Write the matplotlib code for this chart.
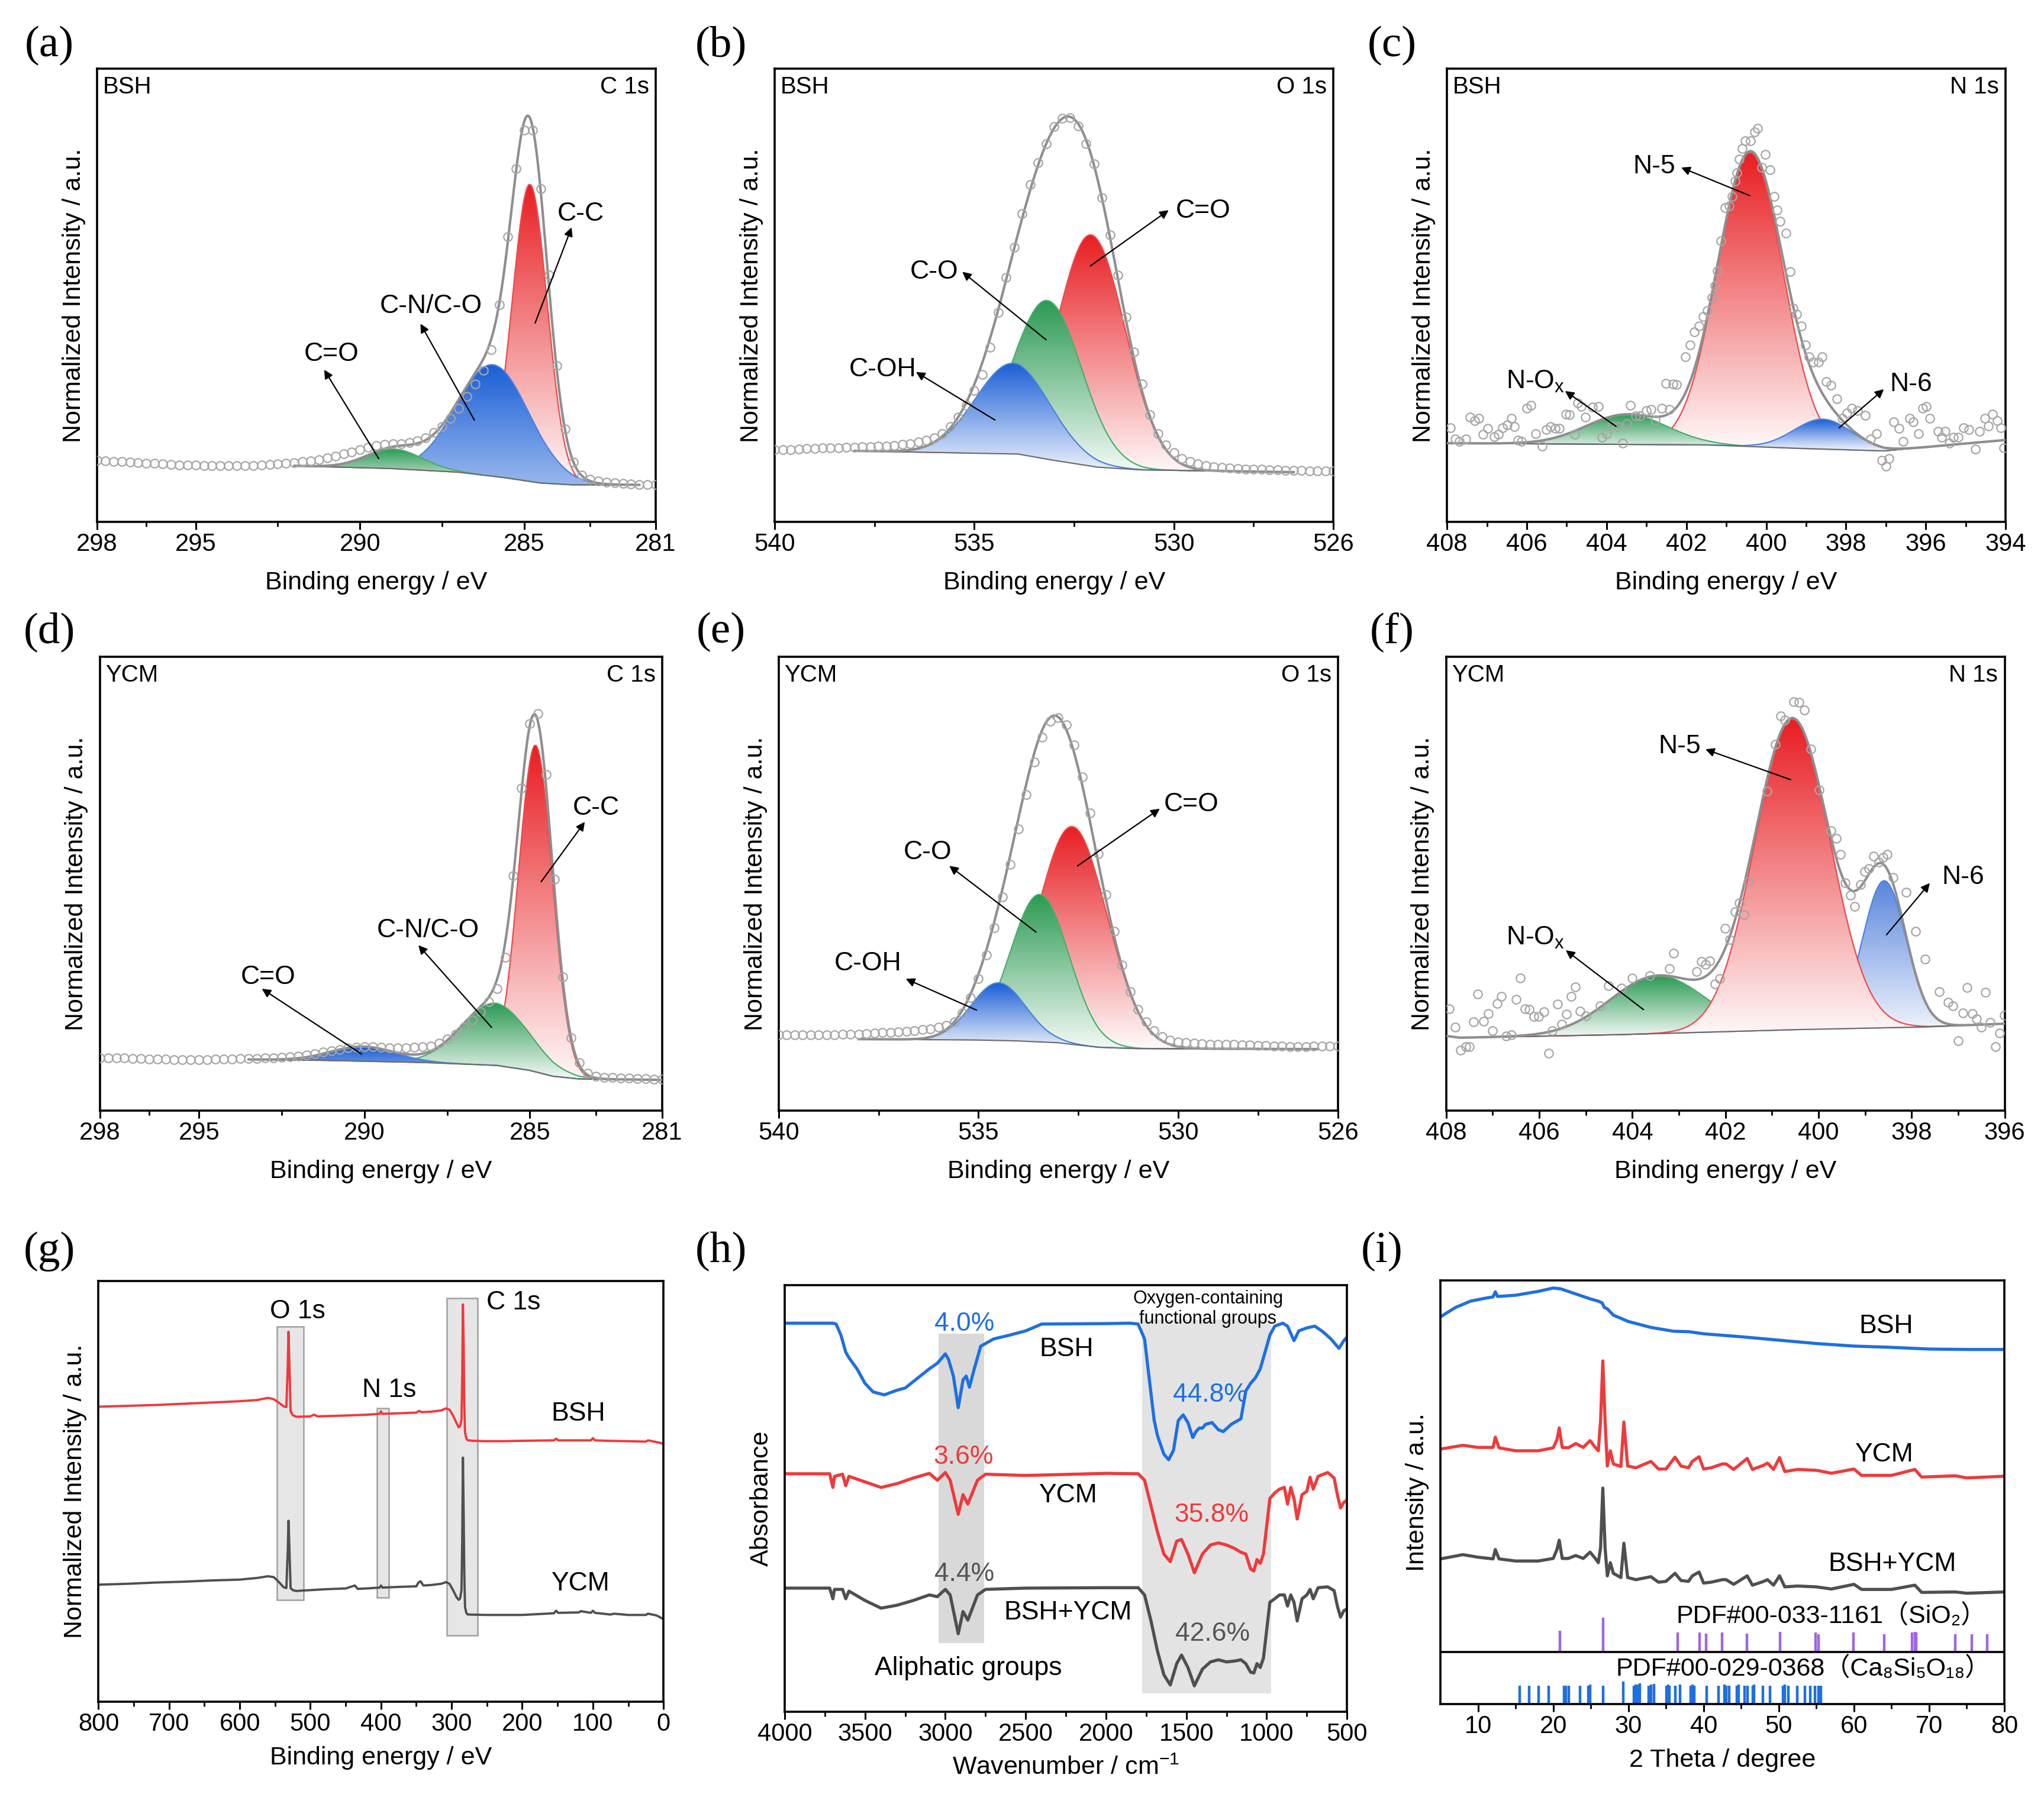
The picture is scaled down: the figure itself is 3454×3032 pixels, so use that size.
import numpy as np
import matplotlib
matplotlib.use("Agg")
import matplotlib.pyplot as plt
from matplotlib.colors import to_rgb
from matplotlib.patches import Rectangle

plt.rcParams['font.family'] = ['Liberation Sans', 'Noto Sans CJK SC', 'DejaVu Sans']
plt.rcParams['mathtext.fontset'] = 'custom'
plt.rcParams['mathtext.rm'] = 'Liberation Sans'
plt.rcParams['mathtext.it'] = 'Liberation Sans:italic'
plt.rcParams['mathtext.default'] = 'regular'

# ---------------- data (intensities as fraction of axis height) -------------
# (a) BSH C 1s, 298 -> 281 eV, 0.25 eV step
a_I = [0.136, 0.135, 0.134, 0.133, 0.132, 0.131, 0.130, 0.129, 0.128, 0.127,
       0.126, 0.126, 0.126, 0.125, 0.124, 0.124, 0.124, 0.124, 0.125, 0.125,
       0.126, 0.127, 0.128, 0.129, 0.131, 0.133, 0.135, 0.138, 0.141, 0.145,
       0.150, 0.155, 0.160, 0.165, 0.169, 0.172, 0.173, 0.173, 0.175, 0.179,
       0.186, 0.197, 0.211, 0.229, 0.251, 0.277, 0.305, 0.335, 0.380, 0.480,
       0.630, 0.780, 0.865, 0.865, 0.735, 0.545, 0.345, 0.205, 0.132, 0.104,
       0.094, 0.090, 0.088, 0.086, 0.085, 0.084, 0.083, 0.083, 0.082]
a_bgE = [292, 289, 287, 285.5, 284.5, 283.5, 281.5]
a_bgI = [0.124, 0.118, 0.110, 0.097, 0.086, 0.082, 0.082]
# peaks: centre, height, fwhm
a_center = [284.83, 285.95, 288.95]
a_height = [0.655, 0.246, 0.043]
a_fwhm = [1.25, 2.6, 2.0]

# (b) BSH O 1s, 540 -> 526 eV, 0.2 eV step
b_I = [0.159, 0.160, 0.160, 0.161, 0.162, 0.162, 0.163, 0.163, 0.164, 0.165,
       0.165, 0.166, 0.166, 0.167, 0.168, 0.169, 0.171, 0.173, 0.176, 0.180,
       0.186, 0.195, 0.210, 0.232, 0.258, 0.290, 0.325, 0.385, 0.462, 0.540,
       0.606, 0.680, 0.745, 0.792, 0.835, 0.872, 0.890, 0.892, 0.873, 0.835,
       0.790, 0.715, 0.633, 0.545, 0.452, 0.375, 0.305, 0.236, 0.195, 0.170,
       0.153, 0.140, 0.133, 0.128, 0.124, 0.122, 0.120, 0.119, 0.118, 0.117,
       0.117, 0.116, 0.115, 0.115, 0.114, 0.114, 0.114, 0.113, 0.113, 0.113,
       0.112]
b_bgE = [538, 536.8, 533.9, 533, 531.9, 530.8, 527]
b_bgI = [0.157, 0.155, 0.150, 0.136, 0.121, 0.115, 0.110]
b_center = [532.07, 533.16, 534.03]
b_height = [0.51, 0.35, 0.20]
b_fwhm = [2.0, 2.0, 2.2]

# (c) BSH N 1s, scattered points (eV, intensity)
c_pts = [(407.91, 0.208), (407.80, 0.183), (407.69, 0.178), (407.53, 0.183), (407.42, 0.231),
         (407.31, 0.223), (407.20, 0.229), (407.09, 0.193), (406.98, 0.206), (406.82, 0.189),
         (406.71, 0.193), (406.60, 0.208), (406.49, 0.214), (406.38, 0.229), (406.31, 0.210),
         (406.22, 0.180), (406.13, 0.178), (406.00, 0.251), (405.89, 0.257), (405.78, 0.195),
         (405.62, 0.167), (405.51, 0.204), (405.40, 0.211), (405.29, 0.206), (405.18, 0.206),
         (405.02, 0.238), (404.93, 0.236), (404.80, 0.193), (404.72, 0.263), (404.64, 0.255),
         (404.53, 0.231), (404.36, 0.253), (404.20, 0.255), (404.11, 0.187), (404.00, 0.195),
         (403.87, 0.212), (403.71, 0.210), (403.60, 0.174), (403.49, 0.217), (403.40, 0.257),
         (403.27, 0.234), (403.16, 0.234), (403.00, 0.246), (402.89, 0.248), (402.78, 0.225),
         (402.62, 0.251), (402.51, 0.306), (402.42, 0.249), (402.34, 0.304), (402.24, 0.303),
         (402.02, 0.365), (401.91, 0.391), (401.80, 0.419), (401.69, 0.433), (401.58, 0.453),
         (401.47, 0.467), (401.36, 0.495), (401.28, 0.521), (401.22, 0.554), (401.14, 0.620),
         (401.03, 0.694), (400.93, 0.697), (400.85, 0.718), (400.78, 0.752), (400.74, 0.771),
         (400.67, 0.801), (400.60, 0.824), (400.52, 0.841), (400.40, 0.841), (400.29, 0.861),
         (400.22, 0.868), (400.11, 0.782), (400.02, 0.811), (399.91, 0.777), (399.80, 0.718),
         (399.72, 0.688), (399.65, 0.663), (399.51, 0.637), (399.40, 0.552), (399.32, 0.472),
         (399.23, 0.459), (399.12, 0.433), (399.01, 0.391), (398.93, 0.365), (398.82, 0.353),
         (398.69, 0.353), (398.60, 0.365), (398.49, 0.310), (398.38, 0.302), (398.23, 0.272),
         (398.09, 0.229), (397.98, 0.240), (397.85, 0.251), (397.71, 0.246), (397.51, 0.235),
         (397.38, 0.183), (397.24, 0.195), (397.10, 0.136), (396.99, 0.123), (396.92, 0.140),
         (396.81, 0.221), (396.67, 0.206), (396.56, 0.178), (396.40, 0.229), (396.31, 0.221),
         (396.18, 0.195), (396.07, 0.251), (395.99, 0.255), (395.90, 0.229), (395.69, 0.200),
         (395.60, 0.187), (395.52, 0.200), (395.41, 0.174), (395.30, 0.187), (395.19, 0.187),
         (395.06, 0.208), (394.92, 0.204), (394.76, 0.161), (394.65, 0.200), (394.52, 0.229),
         (394.43, 0.212), (394.32, 0.238), (394.21, 0.223), (394.12, 0.208), (394.05, 0.164)]
c_bgE = [408, 401.4, 399, 397.05, 394]
c_bgI = [0.174, 0.170, 0.162, 0.157, 0.181]
c_center = [400.40, 403.49, 398.58]
c_height = [0.648, 0.066, 0.066]
c_fwhm = [1.93, 2.4, 1.7]

# (d) YCM C 1s, 298 -> 281 eV, 0.25 eV step
d_I = [0.116, 0.116, 0.115, 0.115, 0.114, 0.114, 0.113, 0.113, 0.113, 0.112,
       0.112, 0.112, 0.112, 0.112, 0.113, 0.113, 0.113, 0.114, 0.114, 0.114,
       0.115, 0.116, 0.117, 0.118, 0.119, 0.122, 0.125, 0.128, 0.131, 0.134,
       0.137, 0.139, 0.140, 0.140, 0.139, 0.138, 0.138, 0.138, 0.139, 0.140,
       0.142, 0.148, 0.157, 0.168, 0.183, 0.199, 0.217, 0.240, 0.268, 0.337,
       0.517, 0.710, 0.852, 0.875, 0.740, 0.510, 0.294, 0.160, 0.105, 0.082,
       0.075, 0.073, 0.072, 0.071, 0.071, 0.070, 0.070, 0.069, 0.069]
d_bgE = [293.5, 291, 288, 286, 285, 284.3, 283.5, 281]
d_bgI = [0.112, 0.110, 0.105, 0.099, 0.088, 0.075, 0.069, 0.067]
d_center = [284.83, 286.05, 290.03]
d_height = [0.72, 0.137, 0.032]
d_fwhm = [1.2, 2.4, 2.3]

# (e) YCM O 1s, 540 -> 526 eV, 0.2 eV step
e_I = [0.166, 0.166, 0.166, 0.166, 0.167, 0.167, 0.167, 0.167, 0.168, 0.168,
       0.168, 0.169, 0.170, 0.171, 0.172, 0.173, 0.174, 0.176, 0.178, 0.180,
       0.183, 0.187, 0.195, 0.215, 0.248, 0.290, 0.342, 0.402, 0.470, 0.542,
       0.620, 0.696, 0.768, 0.823, 0.858, 0.866, 0.850, 0.805, 0.735, 0.655,
       0.565, 0.475, 0.395, 0.320, 0.262, 0.222, 0.195, 0.176, 0.163, 0.155,
       0.151, 0.149, 0.148, 0.147, 0.146, 0.146, 0.145, 0.145, 0.144, 0.144,
       0.143, 0.143, 0.142, 0.141, 0.140, 0.140, 0.140, 0.141, 0.141, 0.141,
       0.141]
e_bgE = [538, 535, 534, 533, 532, 531, 526.5]
e_bgI = [0.157, 0.155, 0.153, 0.149, 0.139, 0.136, 0.135]
e_center = [532.65, 533.47, 534.50]
e_height = [0.48, 0.325, 0.127]
e_fwhm = [2.05, 1.72, 1.6]

# (f) YCM N 1s, scattered points
f_pts = [(407.93, 0.224), (407.81, 0.183), (407.69, 0.133), (407.58, 0.140), (407.50, 0.140),
         (407.41, 0.195), (407.32, 0.257), (407.20, 0.196), (407.09, 0.213), (407.00, 0.176),
         (406.90, 0.236), (406.81, 0.251), (406.71, 0.164), (406.60, 0.167), (406.50, 0.244),
         (406.41, 0.292), (406.31, 0.224), (406.22, 0.222), (406.11, 0.207), (406.01, 0.207),
         (405.90, 0.217), (405.80, 0.126), (405.72, 0.176), (405.61, 0.234), (405.52, 0.190),
         (405.41, 0.212), (405.31, 0.251), (405.22, 0.272), (405.12, 0.219), (405.00, 0.208),
         (404.69, 0.230), (404.51, 0.275), (404.23, 0.270), (404.00, 0.292), (403.62, 0.297),
         (403.21, 0.313), (403.11, 0.347), (402.62, 0.306), (402.52, 0.328), (402.43, 0.322),
         (402.34, 0.330), (402.22, 0.279), (402.12, 0.290), (402.01, 0.401), (401.91, 0.376),
         (401.79, 0.438), (401.70, 0.457), (401.60, 0.431), (401.51, 0.504), (401.10, 0.704),
         (400.93, 0.807), (400.82, 0.869), (400.72, 0.860), (400.54, 0.901), (400.42, 0.899),
         (400.30, 0.883), (400.17, 0.796), (399.99, 0.706), (399.73, 0.617), (399.62, 0.599),
         (399.53, 0.564), (399.43, 0.502), (399.32, 0.474), (399.22, 0.449), (399.10, 0.498),
         (399.01, 0.526), (398.92, 0.533), (398.82, 0.560), (398.70, 0.547), (398.62, 0.558),
         (398.52, 0.564), (398.40, 0.513), (398.12, 0.481), (397.92, 0.395), (397.71, 0.333),
         (397.41, 0.262), (397.21, 0.238), (397.11, 0.230), (397.00, 0.153), (396.90, 0.215),
         (396.81, 0.271), (396.70, 0.213), (396.60, 0.202), (396.51, 0.183), (396.41, 0.260),
         (396.31, 0.194), (396.20, 0.140), (396.11, 0.170), (396.01, 0.210)]
f_bgE = [408, 407.7, 404.2, 400.46, 397.65, 396]
f_bgI = [0.164, 0.160, 0.167, 0.178, 0.184, 0.191]
f_center = [398.59, 403.46, 400.56]
f_height = [0.324, 0.127, 0.685]
f_fwhm = [1.1, 2.4, 1.9]

# (g) XPS survey (eV, intensity)
g_bsh = [(800, .701), (760, .703), (720, .705), (680, .708), (640, .711), (600, .714), (575, .717),
         (560, .722), (552, .719), (545, .711), (538, .702), (534, .700), (532, .800), (531, .879),
         (530, .820), (528, .690), (525, .681), (520, .677), (500, .678), (495, .682), (490, .678),
         (450, .680), (420, .682), (402, .684), (400, .690), (398, .684), (380, .685), (350, .687),
         (346, .691), (342, .688), (330, .689), (315, .692), (308, .697), (303, .694), (298, .680),
         (293, .662), (290, .652), (288, .655), (286, .670), (285, .770), (284, .944), (283, .850),
         (282, .700), (281, .640), (279, .625), (277, .621), (270, .620), (250, .619), (230, .619),
         (200, .620), (155, .621), (152, .625), (149, .621), (120, .621), (103, .621), (100, .626),
         (97, .621), (80, .620), (50, .619), (25, .618), (22, .621), (10, .617), (0, .613)]
g_ycm = [(800, .278), (760, .280), (720, .283), (680, .285), (640, .288), (600, .290), (575, .294),
         (560, .298), (552, .296), (545, .285), (538, .272), (534, .270), (532, .360), (531, .430),
         (530, .380), (528, .270), (525, .265), (520, .263), (500, .265), (480, .267), (450, .269),
         (437, .276), (433, .268), (420, .269), (402, .271), (400, .276), (398, .271), (370, .273),
         (350, .274), (347, .283), (344, .286), (340, .276), (330, .277), (315, .280), (308, .284),
         (303, .280), (298, .265), (293, .248), (290, .242), (288, .245), (286, .265), (285, .380),
         (284, .580), (283, .450), (282, .300), (281, .225), (279, .210), (277, .207), (250, .206),
         (200, .206), (155, .210), (152, .216), (149, .211), (120, .212), (117, .215), (103, .211),
         (100, .216), (97, .211), (75, .207), (70, .209), (50, .206), (25, .206), (22, .209),
         (10, .205), (0, .196)]

# (h) FTIR (wavenumber, absorbance)
h_bsh = [(4000, .911), (3700, .911), (3680, .909), (3650, .883), (3620, .843), (3600, .830),
         (3550, .804), (3500, .770), (3450, .750), (3380, .743), (3300, .754), (3250, .759),
         (3200, .774), (3100, .804), (3050, .817), (3000, .839), (2980, .826), (2950, .787),
         (2920, .713), (2890, .778), (2870, .787), (2850, .761), (2820, .804), (2780, .857),
         (2700, .874), (2600, .883), (2500, .893), (2400, .909), (2000, .910), (1850, .911),
         (1800, .909), (1760, .874), (1730, .778), (1700, .683), (1680, .648), (1640, .604),
         (1610, .591), (1580, .613), (1550, .683), (1520, .696), (1490, .678), (1460, .643),
         (1440, .657), (1420, .665), (1400, .665), (1380, .674), (1340, .678), (1300, .661),
         (1270, .657), (1220, .674), (1160, .687), (1130, .752), (1100, .770), (1070, .783),
         (1040, .804), (1020, .830), (980, .883), (950, .904), (900, .911), (870, .904),
         (830, .870), (800, .893), (750, .900), (700, .904), (650, .891), (600, .874),
         (550, .852), (520, .870), (500, .878)]
h_ycm = [(4000, .558), (3720, .558), (3700, .526), (3690, .552), (3640, .557), (3620, .530),
         (3600, .552), (3500, .539), (3400, .526), (3300, .535), (3200, .548), (3100, .559),
         (3050, .543), (3000, .561), (2970, .543), (2920, .463), (2890, .509), (2860, .487),
         (2800, .543), (2750, .557), (2500, .554), (2000, .559), (1800, .558), (1760, .543),
         (1720, .483), (1680, .422), (1640, .370), (1600, .352), (1560, .400), (1530, .404),
         (1490, .370), (1450, .326), (1400, .370), (1350, .391), (1300, .396), (1250, .391),
         (1200, .383), (1160, .374), (1130, .370), (1100, .335), (1080, .330), (1060, .357),
         (1040, .348), (1020, .370), (980, .500), (950, .513), (920, .522), (890, .526),
         (870, .487), (850, .526), (830, .500), (810, .452), (780, .509), (750, .517),
         (730, .550), (710, .522), (680, .552), (620, .561), (580, .548), (560, .509),
         (540, .478), (520, .491), (500, .496)]
h_mix = [(4000, .290), (3720, .290), (3700, .265), (3690, .287), (3640, .287), (3620, .265),
         (3600, .283), (3500, .261), (3400, .243), (3300, .250), (3200, .261), (3100, .274),
         (3050, .270), (3000, .287), (2970, .274), (2920, .183), (2890, .235), (2860, .215),
         (2800, .274), (2750, .287), (2500, .290), (2000, .291), (1800, .291), (1760, .274),
         (1720, .213), (1680, .143), (1640, .087), (1600, .063), (1560, .113), (1530, .133),
         (1490, .104), (1450, .061), (1400, .100), (1350, .117), (1300, .122), (1250, .117),
         (1200, .119), (1160, .122), (1130, .113), (1100, .093), (1080, .091), (1060, .113),
         (1040, .104), (1020, .126), (980, .257), (950, .265), (920, .274), (890, .274),
         (870, .248), (850, .274), (830, .257), (810, .213), (780, .265), (750, .274),
         (730, .287), (710, .265), (680, .291), (620, .293), (580, .284), (560, .248),
         (540, .222), (520, .237), (500, .241)]

# (i) XRD (2 theta, intensity)
i_bsh = [(5, .914), (7, .936), (9, .951), (11, .958), (12, .961), (12.3, .973), (12.6, .962),
         (15, .965), (18, .974), (20, .982), (21, .980), (22, .974), (24, .962), (25, .956),
         (26, .951), (26.5, .947), (26.8, .936), (27.2, .933), (28, .918), (30, .903), (33, .889),
         (36, .880), (38, .879), (40, .874), (45, .867), (50, .859), (55, .851), (60, .845),
         (65, .842), (70, .838), (75, .837), (80, .837)]
i_ycm = [(5, .602), (8, .611), (10, .606), (12, .606), (12.3, .630), (12.8, .605), (15, .598),
         (18, .598), (20, .605), (20.5, .624), (20.8, .652), (21.2, .606), (22, .605), (23, .615),
         (24, .606), (24.9, .622), (25.6, .606), (26, .598), (26.3, .668), (26.6, .810), (26.9, .668),
         (27.2, .562), (27.6, .598), (28, .567), (29, .561), (29.4, .666), (29.9, .562), (31, .558),
         (33, .573), (34, .555), (35, .555), (36.2, .583), (37, .562), (38, .558), (38.5, .573),
         (39.4, .584), (40, .555), (41, .558), (42.5, .567), (43, .567), (44, .554), (45.8, .580),
         (46.5, .554), (48, .564), (48.5, .569), (49.3, .554), (50.1, .582), (50.8, .549),
         (52.5, .554), (55, .552), (57, .545), (60, .555), (61, .540), (65, .540), (68.1, .554),
         (69, .536), (73.5, .539), (75, .534), (80, .538)]
i_mix = [(5, .343), (8, .353), (10, .347), (12, .343), (12.3, .365), (12.8, .343), (15, .338),
         (18, .338), (20, .344), (20.5, .365), (20.8, .387), (21.2, .344), (22, .344), (23, .351),
         (24, .344), (24.9, .359), (25.6, .344), (26, .334), (26.3, .369), (26.6, .510), (26.9, .369),
         (27.2, .303), (27.6, .334), (28, .309), (29, .299), (29.4, .380), (29.9, .299), (31, .294),
         (33, .301), (34, .288), (35, .290), (36.2, .309), (37, .292), (38, .290), (38.5, .303),
         (39.4, .312), (40, .286), (41, .288), (42.5, .294), (43, .294), (44, .283), (45.8, .303),
         (46.5, .281), (48, .290), (48.5, .294), (49.3, .281), (50.1, .303), (50.8, .277),
         (52.5, .279), (55, .277), (57, .272), (60, .283), (61, .271), (65, .271), (68.1, .281),
         (69, .264), (73.5, .265), (75, .262), (80, .265)]
sio2_pos = [20.9, 26.65, 36.55, 39.5, 40.3, 42.45, 45.8, 50.15, 54.9, 55.3, 59.95, 64.0,
            67.7, 68.15, 68.3, 73.5, 75.7, 77.7]
sio2_h = [0.051, 0.081, 0.046, 0.046, 0.044, 0.046, 0.044, 0.048, 0.046, 0.042, 0.046, 0.042,
          0.046, 0.048, 0.046, 0.042, 0.042, 0.042]
ca_pos = [15.55, 16.82, 18.03, 19.41, 21.43, 21.71, 22.06, 23.56, 24.65, 24.88, 26.61, 29.32,
          30.71, 30.99, 31.22, 31.51, 32.67, 33.01, 33.41, 35.03, 35.26, 35.49, 36.24, 36.87,
          38.31, 38.54, 38.78, 40.45, 41.95, 42.81, 43.04, 43.39, 44.42, 44.65, 45.46, 45.81,
          46.56, 46.73, 47.88, 48.86, 50.53, 50.82, 51.28, 52.43, 53.47, 54.22, 54.80, 55.26, 55.60]
ca_h = [0.044, 0.044, 0.044, 0.044, 0.044, 0.044, 0.044, 0.044, 0.044, 0.046, 0.044, 0.053,
        0.044, 0.046, 0.046, 0.050, 0.044, 0.046, 0.048, 0.044, 0.046, 0.044, 0.044, 0.046,
        0.044, 0.046, 0.044, 0.044, 0.044, 0.046, 0.044, 0.044, 0.044, 0.046, 0.044, 0.044,
        0.044, 0.046, 0.044, 0.044, 0.044, 0.046, 0.044, 0.044, 0.044, 0.044, 0.044, 0.044, 0.044]

RED = '#e81e22'
BLUE = '#1a5ed6'
GREEN = '#2b9a54'
LRED = '#f04848'
LBLUE = '#4a82e2'
LGREEN = '#45b06c'
GRAYLINE = '#505050'

TICK = 15
LAB = 15.5


def grad_fill(ax, x, y0, y1, color, fade, z):
    # vertical gradient: full colour at the peak, nearly white at the baseline
    poly = ax.fill_between(x, y0, y1, facecolor='none', edgecolor='none', zorder=z)
    c = np.array(to_rgb(color))
    bottom = c + (1 - c) * fade
    t = np.linspace(0, 1, 256)[:, None]
    img = (bottom + (c - bottom) * t)[:, None, :]
    im = ax.imshow(img, extent=(x.min(), x.max(), y0.min(), y1.max()), origin='lower',
                   aspect='auto', zorder=z, interpolation='bilinear')
    im.set_clip_path(poly.get_paths()[0], transform=ax.transData)


def style(ax, xlim, major, minor, xlabel, ylabel, lpad=9):
    ax.set_xlim(*xlim)
    ax.set_ylim(0, 1)
    ax.set_xticks(major)
    ax.set_xticks(minor, minor=True)
    ax.set_xticklabels([str(m) for m in major])
    ax.tick_params(axis='x', which='major', direction='out', length=4.5, width=1.1,
                   labelsize=TICK, pad=2)
    ax.tick_params(axis='x', which='minor', direction='out', length=3, width=1.0)
    ax.tick_params(axis='y', left=False, labelleft=False, which='both')
    for s in ax.spines.values():
        s.set_linewidth(1.3)
    ax.set_xlabel(xlabel, fontsize=LAB, labelpad=lpad)
    ax.set_ylabel(ylabel, fontsize=LAB, labelpad=7)


def xps(ax, E, I, bgE, bgI, comps, fit, notes, sample, core, xlim, major, minor):
    Ef = np.linspace(fit[0], fit[1], 900)
    o = np.argsort(bgE)
    bg = np.interp(Ef, np.array(bgE)[o], np.array(bgI)[o])
    total = bg.copy()
    for k, (c, h, w, col, lcol, fade) in enumerate(comps):
        g = h * np.exp(-4 * np.log(2) * ((Ef - c) / w) ** 2)
        total = total + g
        grad_fill(ax, Ef, bg, bg + g, col, fade, 1 + 0.1 * k)
        ax.plot(Ef, bg + g, color=lcol, lw=0.8, zorder=1.05 + 0.1 * k)
    ax.plot(Ef, bg, color='#6e6e6e', lw=0.8, zorder=2)
    ax.plot(Ef, total, color='#8e8e8e', lw=1.5, zorder=3)
    ax.plot(E, I, 'o', ms=5.2, mfc='none', mec='#a6a6a6', mew=0.8, zorder=4)
    for lab, txy, hxy, sxy in notes:
        ax.annotate('', xy=hxy, xytext=sxy,
                    arrowprops=dict(arrowstyle='-|>', color='k', lw=0.8,
                                    mutation_scale=11, shrinkA=0, shrinkB=0), zorder=6)
        ax.text(txy[0], txy[1], lab, fontsize=16, ha='center', va='center', zorder=6)
    ax.text(0.01, 0.96, sample, transform=ax.transAxes, fontsize=14.5, ha='left', va='center')
    ax.text(0.988, 0.96, core, transform=ax.transAxes, fontsize=14.5, ha='right', va='center')
    style(ax, xlim, major, minor, 'Binding energy / eV', 'Normalized Intensity / a.u.')


fig = plt.figure(figsize=(17.27, 15.16), dpi=200)

pos = {
    'a': [0.0475, 0.709, 0.2733, 0.2527], 'b': [0.379, 0.709, 0.2734, 0.2527],
    'c': [0.7079, 0.709, 0.2733, 0.2527], 'd': [0.0488, 0.3811, 0.2752, 0.2528],
    'e': [0.381, 0.3811, 0.2736, 0.2528], 'f': [0.7075, 0.3811, 0.2733, 0.2528],
    'g': [0.0482, 0.0515, 0.2764, 0.2345], 'h': [0.3839, 0.0458, 0.2751, 0.2378],
    'i': [0.7047, 0.050, 0.2759, 0.2363],
}
ax = {k: fig.add_axes(v) for k, v in pos.items()}

# (a)
aE = np.linspace(298, 281, len(a_I))
xps(ax['a'], aE, a_I, a_bgE, a_bgI,
    [(a_center[0], a_height[0], a_fwhm[0], RED, LRED, 0.97),
     (a_center[1], a_height[1], a_fwhm[1], BLUE, LBLUE, 0.55),
     (a_center[2], a_height[2], a_fwhm[2], GREEN, LGREEN, 0.85)],
    (281.5, 292),
    [('C-C', (283.29, 0.68), (283.56, 0.65), (284.67, 0.439)),
     ('C-N/C-O', (287.83, 0.476), (288.16, 0.4375), (286.52, 0.225)),
     ('C=O', (290.87, 0.37), (291.09, 0.336), (289.43, 0.14))],
    'BSH', 'C 1s', (298, 281), [298, 295, 290, 285, 281], [296.5, 292.5, 287.5, 283])

# (b)
bE = np.linspace(540, 526, len(b_I))
xps(ax['b'], bE, b_I, b_bgE, b_bgI,
    [(b_center[0], b_height[0], b_fwhm[0], RED, LRED, 0.97),
     (b_center[1], b_height[1], b_fwhm[1], GREEN, LGREEN, 0.95),
     (b_center[2], b_height[2], b_fwhm[2], BLUE, LBLUE, 0.93)],
    (527, 538),
    [('C=O', (529.26, 0.686), (530.13, 0.688), (532.09, 0.565)),
     ('C-O', (536.0, 0.552), (535.3, 0.552), (533.2, 0.402)),
     ('C-OH', (537.3, 0.336), (536.46, 0.331), (534.48, 0.225))],
    'BSH', 'O 1s', (540, 526), [540, 535, 530, 526], [537.5, 532.5, 528])

# (c)
cE, cI = np.array(c_pts).T
xps(ax['c'], cE, cI, c_bgE, c_bgI,
    [(c_center[0], c_height[0], c_fwhm[0], RED, LRED, 0.98),
     (c_center[1], c_height[1], c_fwhm[1], GREEN, LGREEN, 0.95),
     (c_center[2], c_height[2], c_fwhm[2], BLUE, LBLUE, 0.95)],
    (394, 408),
    [('N-5', (402.81, 0.784), (402.13, 0.782), (400.41, 0.72)),
     ('N-6', (396.37, 0.304), (397.05, 0.293), (398.17, 0.208)),
     ('N-O$_x$', (405.78, 0.31), (405.04, 0.289), (403.76, 0.211))],
    'BSH', 'N 1s', (408, 394), list(range(408, 393, -2)), list(range(407, 394, -2)))

# (d)
dE = np.linspace(298, 281, len(d_I))
xps(ax['d'], dE, d_I, d_bgE, d_bgI,
    [(d_center[0], d_height[0], d_fwhm[0], RED, LRED, 0.97),
     (d_center[1], d_height[1], d_fwhm[1], GREEN, LGREEN, 0.95),
     (d_center[2], d_height[2], d_fwhm[2], BLUE, LBLUE, 0.6)],
    (281, 293.5),
    [('C-C', (283.0, 0.667), (283.34, 0.636), (284.66, 0.504)),
     ('C-N/C-O', (288.08, 0.397), (288.37, 0.364), (286.16, 0.183)),
     ('C=O', (292.91, 0.294), (293.1, 0.268), (290.09, 0.124))],
    'YCM', 'C 1s', (298, 281), [298, 295, 290, 285, 281], [296.5, 292.5, 287.5, 283])

# (e)
eE = np.linspace(540, 526, len(e_I))
xps(ax['e'], eE, e_I, e_bgE, e_bgI,
    [(e_center[0], e_height[0], e_fwhm[0], RED, LRED, 0.98),
     (e_center[1], e_height[1], e_fwhm[1], GREEN, LGREEN, 0.95),
     (e_center[2], e_height[2], e_fwhm[2], BLUE, LBLUE, 0.93)],
    (526.5, 538),
    [('C=O', (529.67, 0.674), (530.46, 0.665), (532.52, 0.539)),
     ('C-O', (536.28, 0.569), (535.73, 0.539), (533.56, 0.393)),
     ('C-OH', (537.77, 0.324), (536.82, 0.29), (535.05, 0.221))],
    'YCM', 'O 1s', (540, 526), [540, 535, 530, 526], [537.5, 532.5, 528])

# (f)
fE, fI = np.array(f_pts).T
xps(ax['f'], fE, fI, f_bgE, f_bgI,
    [(f_center[0], f_height[0], f_fwhm[0], '#5a86dc', LBLUE, 0.95),
     (f_center[1], f_height[1], f_fwhm[1], GREEN, LGREEN, 0.95),
     (f_center[2], f_height[2], f_fwhm[2], RED, LRED, 0.98)],
    (396, 408),
    [('N-5', (402.99, 0.803), (402.43, 0.796), (400.6, 0.729)),
     ('N-6', (396.9, 0.514), (397.61, 0.501), (398.54, 0.387)),
     ('N-O$_x$', (406.08, 0.38), (405.43, 0.353), (403.76, 0.222))],
    'YCM', 'N 1s', (408, 396), list(range(408, 395, -2)), list(range(407, 396, -2)))

# (g) survey
g = ax['g']
for x0, x1, y0, y1 in [(509.8, 547, 0.242, 0.892), (388.8, 405.6, 0.248, 0.697),
                       (263.6, 307, 0.157, 0.959)]:
    g.add_patch(Rectangle((x0, y0), x1 - x0, y1 - y0, facecolor='#e6e6e6',
                          edgecolor='#a0a0a0', lw=0.9, zorder=0))
gx, gy = np.array(g_bsh).T
g.plot(gx, gy, color='#f0393c', lw=1.4, zorder=2)
gx, gy = np.array(g_ycm).T
g.plot(gx, gy, color=GRAYLINE, lw=1.4, zorder=2)
for t, x, y in [('O 1s', 517.8, 0.928), ('N 1s', 388.8, 0.74), ('C 1s', 212.7, 0.948),
                ('BSH', 120.9, 0.684), ('YCM', 117.8, 0.28)]:
    g.text(x, y, t, fontsize=16, ha='center', va='center')
style(g, (800, 0), list(range(800, -1, -100)), list(range(750, 0, -100)),
      'Binding energy / eV', 'Normalized Intensity / a.u.', lpad=6)

# (h) FTIR
h = ax['h']
h.add_patch(Rectangle((2758, 0.161), 3042 - 2758, 0.887 - 0.161, facecolor='#d9d9d9',
                      edgecolor='none', zorder=0))
h.add_patch(Rectangle((973, 0.043), 1777 - 973, 0.92 - 0.043, facecolor='#e3e3e3',
                      edgecolor='none', zorder=0))
for series, col in [(h_bsh, '#1f6fe0'), (h_ycm, '#ee3a3c'), (h_mix, '#4f4f4f')]:
    hx, hy = np.array(series).T
    h.plot(hx, hy, color=col, lw=1.9, zorder=2)
for t, x, y, col in [('4.0%', 2880, 0.91, '#1f6fe0'), ('BSH', 2245, 0.85, 'k'),
                     ('44.8%', 1352, 0.743, '#1f6fe0'), ('3.6%', 2886, 0.597, '#ee3a3c'),
                     ('YCM', 2236, 0.507, 'k'), ('35.8%', 1344, 0.461, '#ee3a3c'),
                     ('4.4%', 2880, 0.322, '#555555'), ('BSH+YCM', 2239, 0.232, 'k'),
                     ('42.6%', 1338, 0.183, '#555555'), ('Aliphatic groups', 2859, 0.102, 'k')]:
    h.text(x, y, t, fontsize=16, color=col, ha='center', va='center', zorder=5)
h.text(1365, 0.945, 'Oxygen-containing\nfunctional groups', fontsize=11, ha='center',
       va='center', linespacing=1.15, zorder=5)
style(h, (4000, 500), list(range(4000, 499, -500)), list(range(3750, 600, -500)),
      'Wavenumber / cm$^{-1}$', 'Absorbance', lpad=6)

# (i) XRD
xr = ax['i']
for series, col in [(i_bsh, '#1f6fe0'), (i_ycm, '#ee3a3c'), (i_mix, '#4f4f4f')]:
    ix, iy = np.array(series).T
    xr.plot(ix, iy, color=col, lw=1.9, zorder=2)
xr.axhline(0.123, color='k', lw=1.3, zorder=3)
xr.vlines(sio2_pos, 0.123, 0.123 + np.array(sio2_h), color='#a066e0', lw=1.6, zorder=2)
xr.vlines(ca_pos, 0.0, np.array(ca_h), color='#1f6fe0', lw=1.6, zorder=2)
for t, x, y in [('BSH', 64.25, 0.892), ('YCM', 63.96, 0.589), ('BSH+YCM', 65.1, 0.33)]:
    xr.text(x, y, t, fontsize=16, ha='center', va='center', zorder=5)
for t, x, y in [('PDF#00-033-1161（SiO₂）', 77.6, 0.206),
                ('PDF#00-029-0368（Ca₈Si₅O₁₈）', 78.2, 0.083)]:
    xr.text(x, y, t, fontsize=15.5, ha='right', va='center', zorder=5)
style(xr, (5, 80), list(range(10, 81, 10)), list(range(15, 80, 10)),
      '2 Theta / degree', 'Intensity / a.u.', lpad=6)

# panel letters
for lab, x, y in [('(a)', 0.0242, 0.9746), ('(b)', 0.3527, 0.9746), ('(c)', 0.681, 0.9746),
                  ('(d)', 0.0242, 0.6475), ('(e)', 0.3527, 0.6475), ('(f)', 0.681, 0.6475),
                  ('(g)', 0.0242, 0.3023), ('(h)', 0.3527, 0.3023), ('(i)', 0.676, 0.3023)]:
    fig.text(x, y, lab, fontsize=27, family='Liberation Serif', ha='center', va='center')

fig.savefig('out.png', dpi=200)
